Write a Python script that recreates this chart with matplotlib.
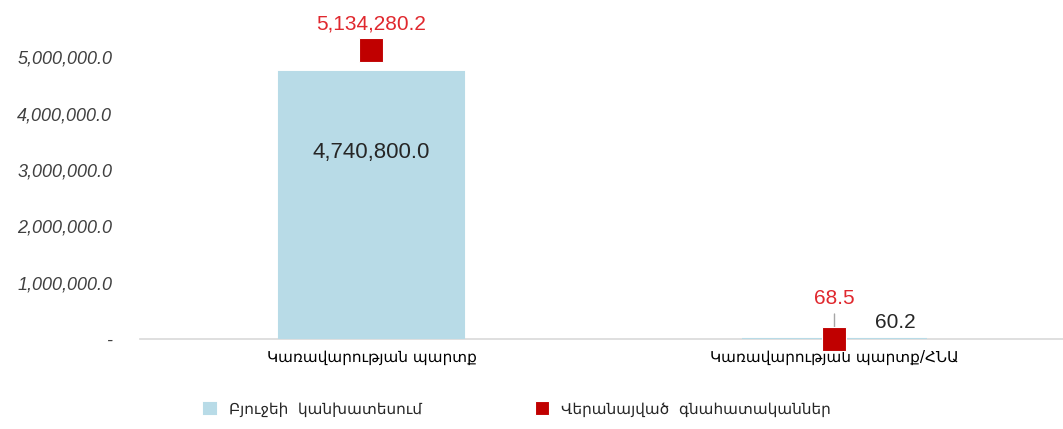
import numpy as np
import matplotlib
matplotlib.use("Agg")
import matplotlib.pyplot as plt
from matplotlib.ticker import FuncFormatter

categories = ["Կառավարության պարտք", "Կառավարության պարտք/ՀՆԱ"]
budget = [4740800.0, 60.2]
revised = [5134280.2, 68.5]
series_names = ["Բյուջեի  կանխատեսում", "Վերանայված  գնահատականներ"]
yticks = [0, 1000000, 2000000, 3000000, 4000000, 5000000]

bar_color = "#B8DBE7"
red = "#C00000"

fig = plt.figure(figsize=(10.63, 4.29), dpi=100)
ax = fig.add_axes([140/1063, 1-339/429, 926/1063, 339/429])

x = np.arange(len(categories))
bars = ax.bar(x, budget, width=0.4, color=bar_color, edgecolor=bar_color,
              linewidth=1.5, label=series_names[0], zorder=3)
pts, = ax.plot(x, revised, linestyle="none", marker="s", markersize=17, color=red,
               markeredgecolor="white", markeredgewidth=0.8, label=series_names[1],
               zorder=4, clip_on=False)

ax.set_xlim(-0.5, 1.5)
ax.set_ylim(0, 6.02e6)

def fmt(v, pos):
    if v == 0:
        return "-"
    return "{:,.1f}".format(v)

ax.set_yticks(yticks)
ax.yaxis.set_major_formatter(FuncFormatter(fmt))
for lab in ax.get_yticklabels():
    lab.set_fontstyle("italic")
    lab.set_family("Liberation Sans")
    lab.set_fontsize(13)
    lab.set_color("#404040")
ax.tick_params(axis="y", length=0, pad=20)
ax.tick_params(axis="x", length=0, pad=8, labelsize=11)
ax.set_xticks(x)
ax.set_xticklabels(categories)

for s in ["top", "right", "left"]:
    ax.spines[s].set_visible(False)
ax.spines["bottom"].set_color("#D9D9D9")
ax.spines["bottom"].set_linewidth(1.2)
ax.spines["bottom"].set_zorder(1)

# data labels
ax.text(x[0], budget[0] * 0.7, "{:,.1f}".format(budget[0]), ha="center",
        va="center", fontsize=16, family="Liberation Sans", color="#262626", zorder=5)
ax.annotate("{:,.1f}".format(revised[0]), (x[0], revised[0]), xytext=(0, 12),
            textcoords="offset points", ha="center", va="bottom", fontsize=15,
            family="Liberation Sans", color="#E0282E")
ax.annotate("{:,.1f}".format(budget[1]), (x[1], budget[1]), xytext=(44, 5),
            textcoords="offset points", ha="center", va="bottom", fontsize=15,
            family="Liberation Sans", color="#262626")
ax.annotate("{:,.1f}".format(revised[1]), (x[1], revised[1]), xytext=(0, 22),
            textcoords="offset points", ha="center", va="bottom", fontsize=15,
            family="Liberation Sans", color="#E0282E",
            arrowprops=dict(arrowstyle="-", color="#A6A6A6", lw=1,
                            shrinkA=2, shrinkB=0), zorder=3)

leg = fig.legend([bars, pts], series_names, loc="lower left",
                 bbox_to_anchor=(192/1063, 0.0), ncol=2,
                 frameon=False, fontsize=11, handlelength=0.8, columnspacing=7.5,
                 markerscale=0.6, borderaxespad=0.4)
for t in leg.get_texts():
    t.set_color("#262626")

fig.savefig("out.png", dpi=100)
